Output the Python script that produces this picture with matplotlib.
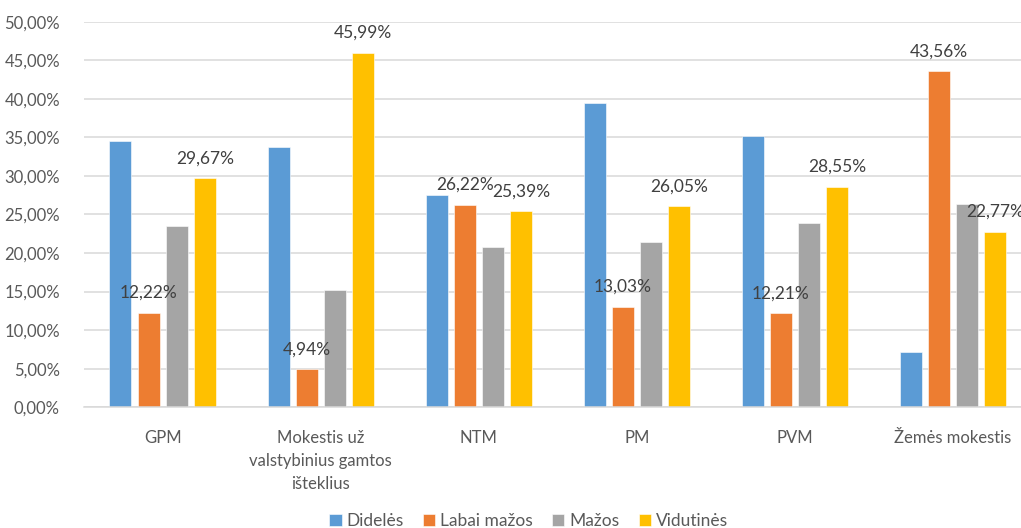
import numpy as np
import matplotlib.pyplot as plt
import matplotlib
from matplotlib.ticker import FuncFormatter, MultipleLocator

matplotlib.rcParams.update({'font.family': ['Lato', 'DejaVu Sans'], 'font.size': 11.5})

# Tax types and the share of each company size group
categories = ['GPM', 'Mokestis už\nvalstybinius gamtos\ništeklius', 'NTM', 'PM', 'PVM',
              'Žemės mokestis']
series_names = ['Didelės', 'Labai mažos', 'Mažos', 'Vidutinės']
didelės = [34.50, 33.76, 27.50, 39.50, 35.15, 7.20]
labai_mažos = [12.22, 4.94, 26.22, 13.03, 12.21, 43.56]
mažos = [23.55, 15.20, 20.80, 21.44, 23.94, 26.33]
vidutinės = [29.67, 45.99, 25.39, 26.05, 28.55, 22.77]
labelled = ['Labai mažos', 'Vidutinės']  # only these series carry value labels

colors = ['#5B9BD5', '#ED7D31', '#A5A5A5', '#FFC000']
values = [didelės, labai_mažos, mažos, vidutinės]

fig = plt.figure(figsize=(10.21, 5.28), dpi=100)
ax = fig.add_axes([83.6 / 1021, 120.7 / 528, 948.5 / 1021, 385.6 / 528])

x = np.arange(len(categories))
step, width = 0.178, 0.139
for i, (name, vals, c) in enumerate(zip(series_names, values, colors)):
    pos = x + (i - 1.5) * step
    v = np.array(vals) / 100
    ax.bar(pos, v, width, color=c, label=name, edgecolor='white', linewidth=0.4, zorder=2)
    if name in labelled:
        for px, py in zip(pos, v):
            ax.annotate('{:.2f}%'.format(py * 100).replace('.', ','), (px, py),
                        xytext=(0, 14.4), textcoords='offset points',
                        ha='center', va='center', color='#404040', fontsize=12.5,
                        zorder=3)

ax.set_xlim(-0.5, len(categories) - 0.5)
ax.set_ylim(0, 0.5)
ax.yaxis.set_major_locator(MultipleLocator(0.05))
ax.yaxis.set_major_formatter(FuncFormatter(lambda v, p: '{:.2f}%'.format(v * 100).replace('.', ',')))
ax.grid(axis='y', color='#D9D9D9', linewidth=1.1, zorder=0)
ax.set_xticks(x)
ax.set_xticklabels(categories, linespacing=1.55, va='top')
ax.tick_params(axis='both', length=0, colors='#595959', labelsize=12)
ax.tick_params(axis='x', pad=16)
ax.tick_params(axis='y', pad=17)
for s in ['top', 'right', 'left']:
    ax.spines[s].set_visible(False)
ax.spines['bottom'].set_color('#D9D9D9')
ax.spines['bottom'].set_linewidth(1.1)
ax.set_axisbelow(True)

leg = fig.legend(loc='lower center', bbox_to_anchor=(0.518, -0.032), ncol=4, frameon=False,
                 handlelength=0.7, handleheight=0.7, handletextpad=0.3, columnspacing=1.1,
                 fontsize=12.5)
for t in leg.get_texts():
    t.set_color('#595959')

fig.savefig('out.png', dpi=100)
